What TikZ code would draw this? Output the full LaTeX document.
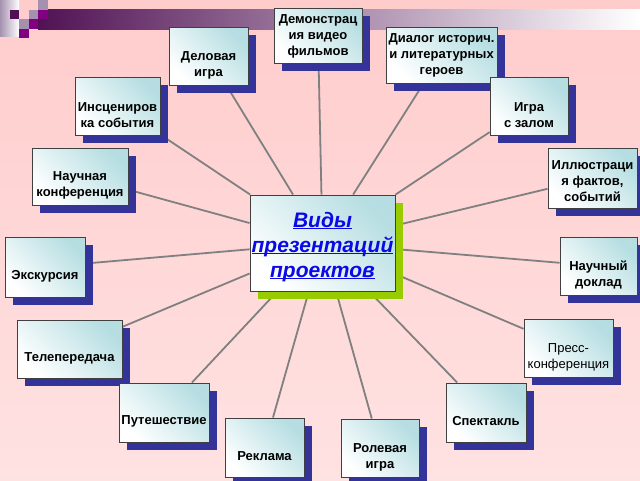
\documentclass[tikz,border=0pt]{standalone}
\usepackage{fontspec}
\setmainfont{Liberation Sans}
\usetikzlibrary{shadows}

\definecolor{bgtop}{RGB}{255,204,204}
\definecolor{bgbottom}{RGB}{255,226,226}
\definecolor{boxteal}{RGB}{182,222,226}
\definecolor{shadowblue}{RGB}{51,51,153}
\definecolor{shadowgreen}{RGB}{153,204,0}
\definecolor{linkgray}{RGB}{128,128,128}
\definecolor{barpurple}{RGB}{80,18,84}
\definecolor{sqmagenta}{RGB}{128,0,128}
\definecolor{sqgray}{RGB}{165,145,175}
\definecolor{titleblue}{RGB}{10,10,230}

\newcommand\ulword[1]{\leavevmode\setbox0\hbox{#1}\rlap{\rule[-1.6pt]{\wd0}{1.4pt}}\box0}

\pgfdeclarelayer{back}
\pgfdeclarelayer{links}
\pgfsetlayers{back,links,main}

\begin{document}
\begin{tikzpicture}[x=1pt,y=-1pt,
                every node/.style={font=\fontsize{13}{16}\selectfont\bfseries,align=center,inner sep=1pt},
                box/.style={draw=black!75,line width=0.9pt,left color=white,right color=boxteal,shading angle=135,
                  drop shadow={shadow xshift=8pt,shadow yshift=-8pt,opacity=1,fill=#1}},
                box/.default=shadowblue,
                low/.style={yshift=-9pt},
                link/.style={draw=linkgray,line width=1.8pt}]
  \useasboundingbox (0,0) rectangle (640,480);
  \begin{pgfonlayer}{back}
    \shade[top color=bgtop,bottom color=bgbottom] (0,0) rectangle (640,480);
    \shade[left color=barpurple,right color=white] (38,9.5) rectangle (640,29);
    \shade[left color=sqgray,right color=white] (0,0) rectangle (19,36);
    \fill[barpurple] (9.5,9.5) rectangle +(9.5,9.5);
    \fill[sqgray] (38,0) rectangle +(9.5,9.5);
    \fill[sqgray] (28.5,9.5) rectangle +(9.5,9.5);
    \fill[sqmagenta] (38,9.5) rectangle +(9.5,9.5);
    \fill[sqgray] (19,19) rectangle +(9.5,9.5);
    \fill[sqmagenta] (28.5,19) rectangle +(9.5,9.5);
    \fill[sqmagenta] (19,28.5) rectangle +(9.5,9.5);
  \end{pgfonlayer}

  \node[box=shadowgreen,minimum width=145,minimum height=96] (vidy) at (322.5,243) {};
  \node[font=\fontsize{21}{25}\selectfont\bfseries\itshape,text=titleblue] (vidy-t) at ([yshift=-4pt]vidy)
    {\ulword{Виды}\\\ulword{презентаций}\\\ulword{проектов}};

  \node[box,minimum width=88,minimum height=55]  (demo)    at (318,35.5)   {};
  \node                                          (demo-t)  at ([yshift=-1pt]demo) {Демонстрац\\ия видео\\фильмов};
  \node[box,minimum width=79,minimum height=58]  (delo)    at (208.5,56)   {};
  \node[low]                                     (delo-t)  at (delo)    {Деловая\\игра};
  \node[box,minimum width=111,minimum height=56] (dialog)  at (441.5,55)   {};
  \node                                          (dialog-t) at (dialog) {Диалог историч.\\и литературных\\героев};
  \node[box,minimum width=85,minimum height=58]  (inscen)  at (117.5,106)  {};
  \node[low]                                     (inscen-t) at (inscen) {Инсцениров\\ка события};
  \node[box,minimum width=78,minimum height=58]  (zal)     at (529,106)    {};
  \node[low]                                     (zal-t)   at (zal)     {Игра\\с залом};
  \node[box,minimum width=96,minimum height=57]  (konf)    at (80,176.5)   {};
  \node[low]                                     (konf-t)  at (konf)    {Научная\\конференция};
  \node[box,minimum width=89,minimum height=60]  (illus)   at (592.5,178)  {};
  \node                                          (illus-t) at ([yshift=-3pt]illus) {Иллюстраци\\я фактов,\\событий};
  \node[box,minimum width=80,minimum height=60]  (ekskur)  at (45,267)     {};
  \node[low]                                     (ekskur-t) at (ekskur) {Экскурсия};
  \node[box,minimum width=77,minimum height=58]  (doklad)  at (598.5,266)  {};
  \node[low]                                     (doklad-t) at (doklad) {Научный\\доклад};
  \node[box,minimum width=105,minimum height=58] (tele)    at (69.5,349)   {};
  \node[low]                                     (tele-t)  at (tele)    {Телепередача};
  \node[box,minimum width=89,minimum height=58]  (press)   at (568.5,348)  {};
  \node[low,font=\fontsize{13}{16}\selectfont]   (press-t) at (press)   {Пресс-\\конференция};
  \node[box,minimum width=90,minimum height=59]  (putesh)  at (164,412.5)  {};
  \node[low]                                     (putesh-t) at (putesh) {Путешествие};
  \node[box,minimum width=80,minimum height=59]  (spekt)   at (486,412.5)  {};
  \node[low]                                     (spekt-t) at (spekt)   {Спектакль};
  \node[box,minimum width=79,minimum height=59]  (reklama) at (264.5,447.5) {};
  \node[low]                                     (reklama-t) at (reklama) {Реклама};
  \node[box,minimum width=78,minimum height=58]  (rol)     at (380,448)    {};
  \node[low]                                     (rol-t)   at (rol)     {Ролевая\\игра};

  \begin{pgfonlayer}{links}
    \draw[link] (vidy) edge (demo);
    \draw[link] (vidy) edge (delo);
    \draw[link] (vidy) edge (dialog);
    \draw[link] (vidy) edge (inscen);
    \draw[link] (vidy) edge (zal);
    \draw[link] (vidy) edge (konf);
    \draw[link] (vidy) edge (illus);
    \draw[link] (vidy) edge (ekskur);
    \draw[link] (vidy) edge (doklad);
    \draw[link] (vidy) edge (tele);
    \draw[link] (vidy) edge (press);
    \draw[link] (vidy) edge (putesh);
    \draw[link] (vidy) edge (spekt);
    \draw[link] (vidy) edge (reklama);
    \draw[link] (vidy) edge (rol);
  \end{pgfonlayer}
\end{tikzpicture}
\end{document}
